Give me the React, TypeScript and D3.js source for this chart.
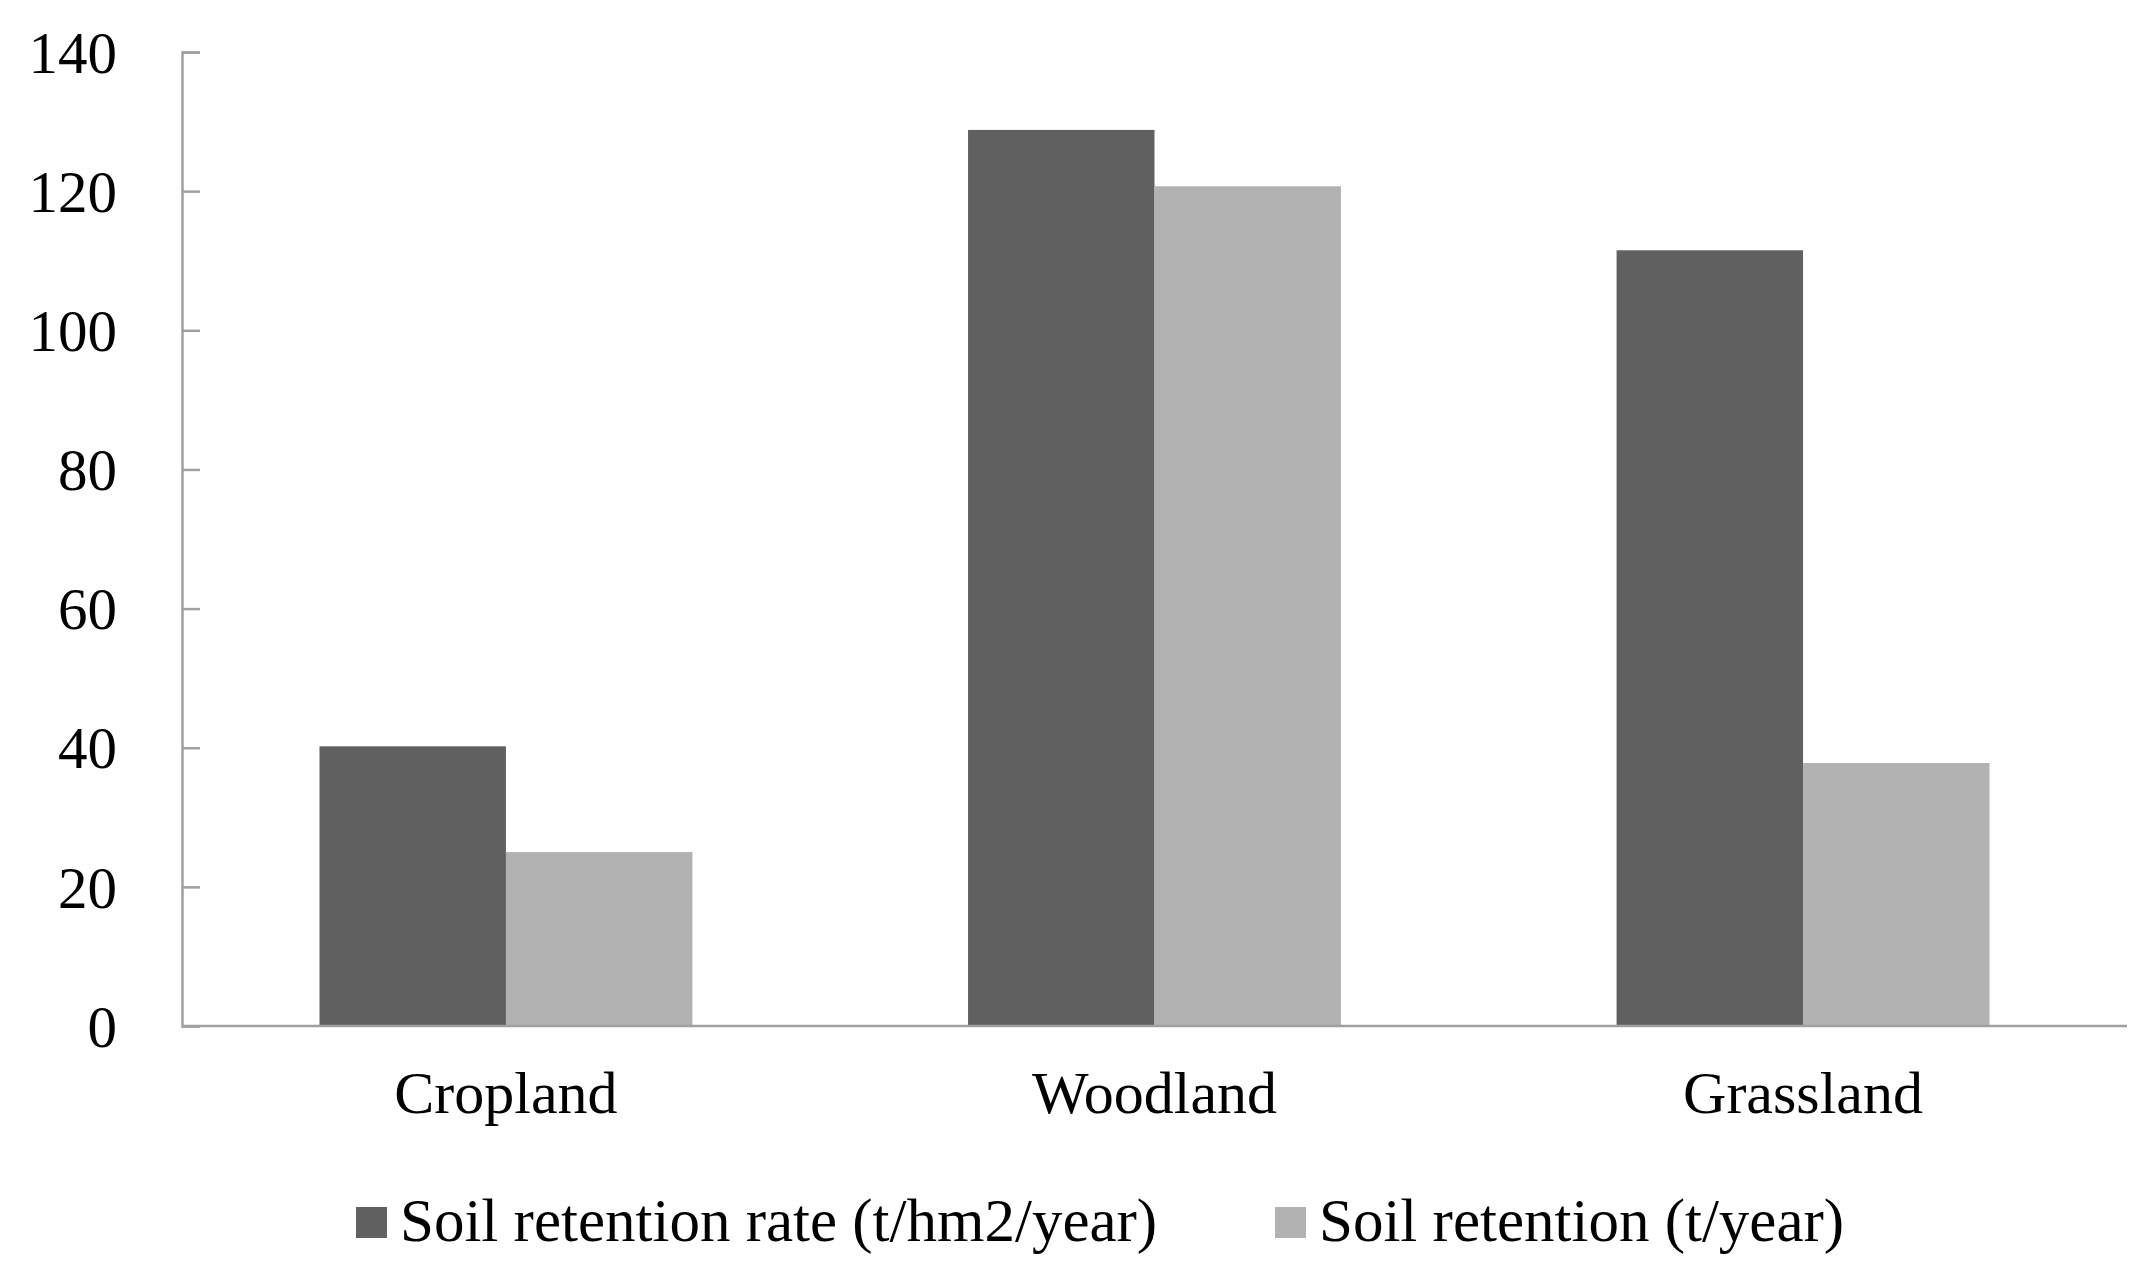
import React, { useEffect, useRef } from "react";
import * as d3 from "d3";

const categories = ["Cropland", "Woodland", "Grassland"];
const seriesNames = ["Soil retention rate (t/hm2/year)", "Soil retention (t/year)"];
const retentionRate = [40.2, 128.8, 111.5];
const retention = [25.0, 120.7, 37.8];
const yTicks = [0, 20, 40, 60, 80, 100, 120, 140];
const colors = ["#606060", "#b2b2b2"];

const App: React.FC = () => {
  const svgRef = useRef<SVGSVGElement | null>(null);

  const width = 2150;
  const height = 1288;
  const margin = { left: 182, right: 23, top: 52, bottom: 262 };

  useEffect(() => {
    document.body.style.margin = "0";
    const svg = d3.select(svgRef.current).attr("width", width).attr("height", height);
    svg.selectAll("*").remove();

    const font = "'Liberation Serif', 'Times New Roman', serif";
    const x0 = d3
      .scaleBand()
      .domain(categories)
      .range([margin.left, width - margin.right])
      .paddingInner(0.425)
      .paddingOuter(0.212);
    const x1 = d3.scaleBand().domain(["0", "1"]).range([0, x0.bandwidth()]);
    const y = d3
      .scaleLinear()
      .domain([0, 140])
      .range([height - margin.bottom, margin.top]);

    const rows = categories.map((c, i) => ({ c, vals: [retentionRate[i], retention[i]] }));

    // bars
    const groups = svg
      .selectAll(".grp")
      .data(rows)
      .enter()
      .append("g")
      .attr("transform", (d) => `translate(${x0(d.c)},0)`);
    groups
      .selectAll("rect")
      .data((d) => d.vals)
      .enter()
      .append("rect")
      .attr("x", (_, i) => x1(String(i)) as number)
      .attr("width", x1.bandwidth())
      .attr("y", (v) => y(v))
      .attr("height", (v) => y(0) - y(v))
      .attr("fill", (_, i) => colors[i]);

    // y axis
    const yAxis = d3
      .axisRight(y)
      .tickValues(yTicks)
      .tickSize(18)
      .tickFormat(() => "");
    const yg = svg.append("g").attr("transform", `translate(${margin.left},0)`).call(yAxis);
    yg.select(".domain").attr("stroke", "#a0a0a0").attr("stroke-width", 2.5);
    yg.selectAll(".tick line").attr("stroke", "#a0a0a0").attr("stroke-width", 2.5);

    svg
      .selectAll(".ylab")
      .data(yTicks)
      .enter()
      .append("text")
      .attr("x", 117)
      .attr("y", (d) => y(d))
      .attr("dy", "0.35em")
      .attr("text-anchor", "end")
      .attr("font-family", font)
      .attr("font-size", 59)
      .attr("fill", "#000")
      .text((d) => d);

    // x axis
    svg
      .append("line")
      .attr("x1", margin.left)
      .attr("x2", width - margin.right)
      .attr("y1", y(0))
      .attr("y2", y(0))
      .attr("stroke", "#a0a0a0")
      .attr("stroke-width", 2.5);

    svg
      .selectAll(".xlab")
      .data(categories)
      .enter()
      .append("text")
      .attr("x", (d) => (x0(d) as number) + x0.bandwidth() / 2)
      .attr("y", 1113)
      .attr("text-anchor", "middle")
      .attr("font-family", font)
      .attr("font-size", 60)
      .attr("fill", "#000")
      .text((d) => d);

    // legend
    const legendX = [356, 1275];
    const lg = svg
      .selectAll(".leg")
      .data(seriesNames)
      .enter()
      .append("g")
      .attr("transform", (_, i) => `translate(${legendX[i]},1207)`);
    lg.append("rect").attr("width", 31).attr("height", 31).attr("fill", (_, i) => colors[i]);
    lg.append("text")
      .attr("x", 44)
      .attr("y", 34)
      .attr("font-family", font)
      .attr("font-size", 61)
      .attr("fill", "#000")
      .text((d) => d);
  }, []);

  return <svg ref={svgRef} style={{ display: "block" }}></svg>;
};

export default App;
